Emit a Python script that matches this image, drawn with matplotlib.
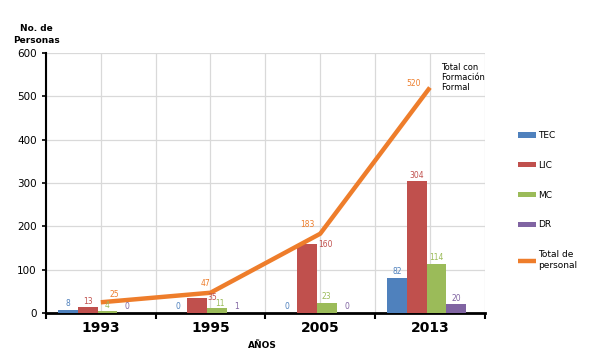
import numpy as np
import matplotlib
matplotlib.use("Agg")
import matplotlib.pyplot as plt

years = ["1993", "1995", "2005", "2013"]
tec = [8, 0, 0, 82]
lic = [13, 35, 160, 304]
mc = [4, 11, 23, 114]
dr = [0, 1, 0, 20]
total = [25, 47, 183, 520]

series = [("TEC", tec, "#4F81BD"), ("LIC", lic, "#C0504D"),
          ("MC", mc, "#9BBB59"), ("DR", dr, "#8064A2")]
line_color = "#EE7D2B"

fig = plt.figure(figsize=(5.89, 3.62), dpi=100)
ax = fig.add_axes([0.078, 0.135, 0.745, 0.719])

x = np.arange(len(years))
w = 0.18
offsets = [-1.5 * w, -0.5 * w, 0.5 * w, 1.5 * w]

handles = []
for (name, vals, col), off in zip(series, offsets):
    b = ax.bar(x + off - 0.03, vals, w, color=col, label=name, zorder=3)
    handles.append(b)
    for xi, v in zip(x, vals):
        dx, dy, ha = 0, 4, "center"
        if name == "LIC" and years[xi] == "1995":
            dx, dy, ha = w * 0.5, -10, "left"
        elif name == "LIC" and years[xi] == "2005":
            dx, dy, ha = w * 0.55, -12, "left"
        elif name == "MC" and years[xi] == "1995":
            dx, dy = 0.03, 0
        ax.text(xi + off - 0.03 + dx, v + dy, str(v), color=col,
                fontsize=5.5, ha=ha, va="bottom", zorder=5)

ln, = ax.plot(x, total, color=line_color, lw=3.2, zorder=4,
              solid_capstyle="butt", label="Total de\npersonal")
handles.append(ln)
lbl_off = [(0.08, 8, "left"), (-0.05, 10, "center"), (-0.05, 10, "right"), (-0.08, 0, "right")]
for xi, v, (dx, dy, ha) in zip(x, total, lbl_off):
    ax.text(xi + dx, v + dy, str(v), color=line_color, fontsize=5.5,
            ha=ha, va="bottom", zorder=5)

ax.text(3.1, 510, "Total con\nFormación\nFormal", fontsize=6, ha="left",
        va="bottom", linespacing=1.1)

ax.set_xlim(-0.5, 3.5)
ax.set_ylim(0, 600)
ax.set_yticks(range(0, 601, 100))
ax.tick_params(axis="y", labelsize=7.5, length=3, width=1.2)
ax.set_xticks(x)
ax.set_xticklabels(years, fontsize=10, fontweight="bold")
ax.tick_params(axis="x", length=0, pad=6)
ax.set_xticks(np.arange(-0.5, 3.6, 1.0), minor=True)
ax.tick_params(axis="x", which="minor", length=4, width=1.5, direction="out")

for g in np.arange(-0.5, 3.6, 0.5):
    ax.axvline(g, color="#D9D9D9", lw=0.9, zorder=0)
for g in range(100, 601, 100):
    ax.axhline(g, color="#D9D9D9", lw=0.9, zorder=0)

for s in ["top", "right"]:
    ax.spines[s].set_visible(False)
ax.spines["left"].set_linewidth(1.5)
ax.spines["bottom"].set_linewidth(2.0)

fig.text(0.062, 0.905, "No. de\nPersonas", fontsize=6.5, fontweight="bold",
         ha="center", va="center", linespacing=1.5)
fig.text(0.445, 0.045, "AÑOS", fontsize=6.5, fontweight="bold",
         ha="center", va="center")

fig.legend(handles=handles, labels=["TEC", "LIC", "MC", "DR", "Total de\npersonal"],
           loc="upper left", bbox_to_anchor=(0.865, 0.66), frameon=False,
           fontsize=6.5, labelspacing=2.3, handlelength=2.0, handleheight=0.5,
           handletextpad=0.3)

fig.savefig("out.png", dpi=100)
